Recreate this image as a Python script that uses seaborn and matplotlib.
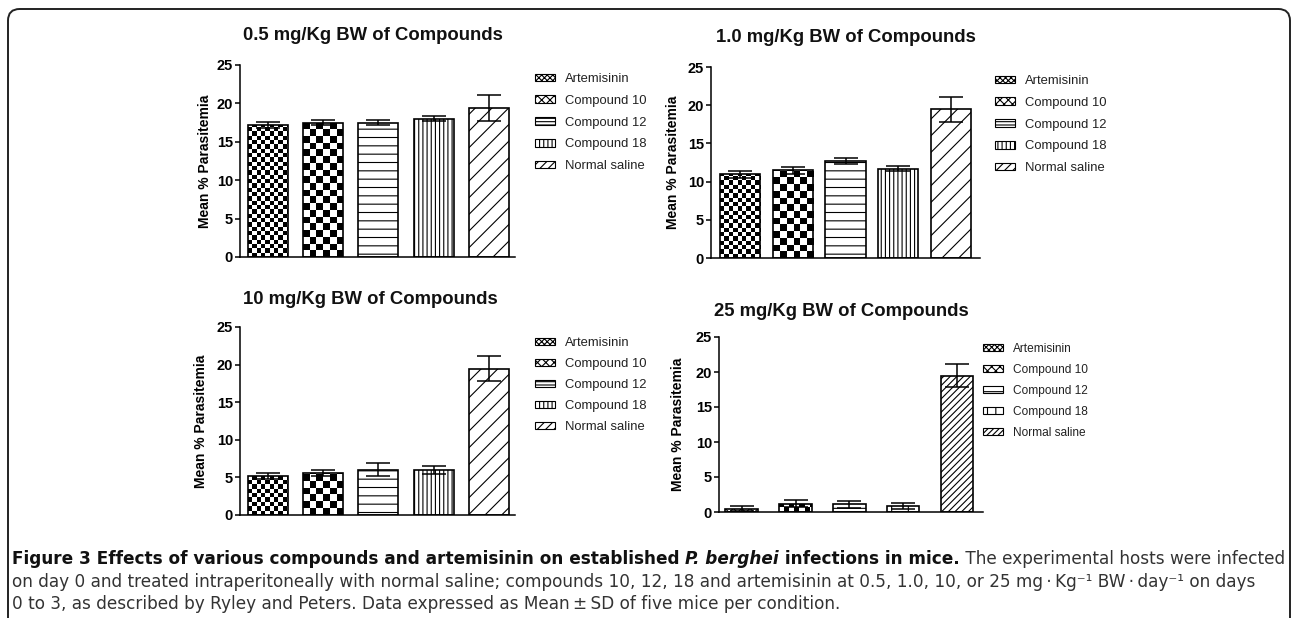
import numpy as np
import pandas as pd
import matplotlib
matplotlib.use("Agg")
import matplotlib.pyplot as plt
from matplotlib.patches import Patch, FancyBboxPatch
from matplotlib import font_manager
import seaborn as sns

# ---------------- data ----------------
groups = ["Artemisinin", "Compound 10", "Compound 12", "Compound 18", "Normal saline"]
titles = ["0.5 mg/Kg BW of Compounds", "1.0 mg/Kg BW of Compounds",
          "10 mg/Kg BW of Compounds", "25 mg/Kg BW of Compounds"]
mean_05 = [17.2, 17.5, 17.5, 18.0, 19.4]
sd_05 = [0.4, 0.3, 0.3, 0.35, 1.65]
mean_10 = [10.95, 11.5, 12.7, 11.7, 19.45]
sd_10 = [0.45, 0.45, 0.45, 0.3, 1.65]
mean_100 = [5.2, 5.6, 6.05, 6.0, 19.45]
sd_100 = [0.4, 0.4, 0.8, 0.55, 1.65]
mean_250 = [0.5, 1.2, 1.1, 0.9, 19.5]
sd_250 = [0.3, 0.5, 0.5, 0.45, 1.65]
yticks = [0, 5, 10, 15, 20, 25]
ylabel = "Mean % Parasitemia"

# ---------------- style ----------------
sns.set_theme(style="white")
plt.rcParams["font.family"] = ["Liberation Sans", "DejaVu Sans"]
plt.rcParams["hatch.linewidth"] = 0.8
plt.rcParams["hatch.color"] = "black"
for k in ["text.color", "axes.labelcolor", "xtick.color", "ytick.color"]:
    plt.rcParams[k] = "black"

W, H = 1292, 618
DPI = 100
fig = plt.figure(figsize=(W / DPI, H / DPI), dpi=DPI)
fig.patch.set_facecolor("white")


def fig_rect(l, r, t, b):
    return [l / W, 1 - b / H, (r - l) / W, (b - t) / H]


panels = [
    dict(mean=mean_05, sd=sd_05, rect=(240, 515, 65, 257), xlim=(-0.5, 4.47), width=0.72,
         title_xy=(373, 35), ylab_x=212, leg=(535, 78, 9.4, 21.75),
         hatches=[None, None, "--", "||||", "//"], checker=[4.3, 6.7, None, None, None],
         leg_hatch=["xxxxxx", "xxxx", "-----", "||||", "////"]),
    dict(mean=mean_10, sd=sd_10, rect=(711, 980, 67, 258), xlim=(-0.55, 4.55), width=0.76,
         title_xy=(846, 38), ylab_x=680, leg=(995, 80, 9.4, 21.75),
         hatches=[None, None, "--", "||||", "//"], checker=[4.3, 6.7, None, None, None],
         leg_hatch=["xxxxxx", "xxxx", "-----", "||||", "////"]),
    dict(mean=mean_100, sd=sd_100, rect=(240, 515, 327, 515), xlim=(-0.5, 4.47), width=0.72,
         title_xy=(370, 299), ylab_x=208, leg=(535, 342, 9.4, 21),
         hatches=[None, None, "--", "||||", "//"], checker=[4.3, 6.7, None, None, None],
         leg_hatch=["xxxxxx", "xxxx", "-----", "||||", "////"]),
    dict(mean=mean_250, sd=sd_250, rect=(719, 983, 337, 512), xlim=(-0.42, 4.48), width=0.6,
         title_xy=(841, 311), ylab_x=685, leg=(983, 347, 8.6, 20),
         hatches=["xxxx", None, "-", "|", "/////"], checker=[None, 5.0, None, None, None],
         leg_hatch=["xxxxxx", "xxxx", "-", "||", "//////"]),
]
sds = [sd_05, sd_10, sd_100, sd_250]

for i, p in enumerate(panels):
    ax = fig.add_axes(fig_rect(*p["rect"]))
    df = pd.DataFrame({"group": groups, "value": p["mean"]})
    sns.barplot(data=df, x="group", y="value", hue="group", order=groups, hue_order=groups,
                palette=["white"] * 5, edgecolor="black", linewidth=1.2, width=p["width"],
                errorbar=None, legend=False, saturation=1, ax=ax)
    ax.set_xlim(*p["xlim"])
    ax.set_ylim(0, 25)
    bars = list(ax.patches)
    centers = [b.get_x() + b.get_width() / 2 for b in bars]
    ax.errorbar(centers, p["mean"], yerr=sds[i], fmt="none", ecolor="black",
                elinewidth=1.1, capsize=8.3, capthick=1.1, zorder=5)
    fig.canvas.draw()
    inv = ax.transData.inverted()
    for b, h, c in zip(bars, p["hatches"], p["checker"]):
        if h:
            b.set_hatch(h)
        if c:
            b.set_facecolor("none")
            bb = b.get_window_extent()
            nx = int(np.ceil(bb.width / c)) + 1
            ny = int(np.ceil(bb.height / c)) + 1
            img = np.add.outer(np.arange(ny), np.arange(nx)) % 2
            x0, y0 = inv.transform((bb.x0, bb.y0))
            x1, y1 = inv.transform((bb.x0 + nx * c, bb.y0 + ny * c))
            im = ax.imshow(img, cmap="gray_r", vmin=0, vmax=1, extent=(x0, x1, y0, y1),
                           origin="lower", interpolation="nearest", aspect="auto",
                           zorder=b.get_zorder() - 0.2)
            im.set_clip_path(b)
    ax.set_xlim(*p["xlim"])
    ax.set_ylim(0, 25)
    ax.set_xticks([])
    ax.set_xlabel("")
    ax.set_yticks(yticks)
    ax.set_yticklabels([str(t) for t in yticks], fontweight="bold", fontsize=10.5)
    ax.tick_params(axis="y", direction="out", length=3.5, width=1.1, pad=1.5, left=True)
    for s in ["top", "right"]:
        ax.spines[s].set_visible(False)
    for s in ["left", "bottom"]:
        ax.spines[s].set_linewidth(1.1)
        ax.spines[s].set_color("black")
    ax.set_ylabel(ylabel, fontweight="bold", fontsize=10)
    l, r, t, b_ = p["rect"]
    ax.yaxis.set_label_coords((p["ylab_x"] - l) / (r - l), 0.5)
    fig.text(p["title_xy"][0] / W, 1 - p["title_xy"][1] / H, titles[i],
             ha="center", va="center", fontsize=13.3, fontweight="bold", color="#111111")
    lx, ly, lfs, lsp = p["leg"]
    handles = [Patch(facecolor="white", edgecolor="black", hatch=hh, linewidth=0.8)
               for hh in p["leg_hatch"]]
    fs_px = lfs * DPI / 72
    leg = ax.legend(handles, groups, loc="upper left",
                    bbox_to_anchor=(lx / W, 1 - (ly - fs_px * 0.37) / H),
                    bbox_transform=fig.transFigure, frameon=False, fontsize=lfs,
                    handlelength=20 / fs_px, handleheight=7 / fs_px, handletextpad=10 / fs_px,
                    labelspacing=(lsp - fs_px * 0.92) / fs_px, borderpad=0, borderaxespad=0)
    for txt in leg.get_texts():
        txt.set_color("#222222")

# ---------------- frame ----------------
frame = FancyBboxPatch((8 / W, -0.2), (1290 - 8) / W, (1 - 9 / H) + 0.2,
                       boxstyle="round,pad=0,rounding_size=0.009",
                       transform=fig.transFigure, facecolor="none", edgecolor="#222222",
                       linewidth=1.4, mutation_aspect=W / H)
fig.patches.append(frame)

# ---------------- caption ----------------
cap_family = ["DejaVu Sans"]
for cand in ["Liberation Sans Narrow", "DejaVu Sans Condensed"]:
    try:
        font_manager.findfont(cand, fallback_to_default=False)
        cap_family = [cand, "DejaVu Sans"]
        break
    except Exception:
        pass

line1 = [("Figure 3 Effects of various compounds and artemisinin on established ", "bold", "normal", "#111111"),
         ("P. berghei", "bold", "italic", "#111111"),
         (" infections in mice.", "bold", "normal", "#111111"),
         (" The experimental hosts were infected", "normal", "normal", "#333333")]
line2 = [("on day 0 and treated intraperitoneally with normal saline; compounds 10, 12, 18 and artemisinin at 0.5, 1.0, 10, or 25 mg\u2009·\u2009Kg\u207b\u00b9 BW\u2009·\u2009day\u207b\u00b9 on days",
          "normal", "normal", "#333333")]
line3 = [("0 to 3, as described by Ryley and Peters. Data expressed as Mean\u2009±\u2009SD of five mice per condition.",
          "normal", "normal", "#333333")]

renderer = fig.canvas.get_renderer()


def draw_line(segs, y_px, fs):
    x = 12
    objs = []
    for txt, wt, st, col in segs:
        t = fig.text(x / W, 1 - y_px / H, txt, fontsize=fs, fontweight=wt, fontstyle=st,
                     family=cap_family, color=col, ha="left", va="center")
        x += t.get_window_extent(renderer).width
        objs.append(t)
    return x - 12, objs


# measure line 1 at a test size, then fit to the reference width
w_test, objs = draw_line(line1, -100, 10)
for o in objs:
    o.remove()
cap_fs = 10 * (1268 / w_test)
draw_line(line1, 559, cap_fs)
draw_line(line2, 582, cap_fs)
draw_line(line3, 604, cap_fs)

fig.savefig("out.png", dpi=DPI, facecolor="white")
